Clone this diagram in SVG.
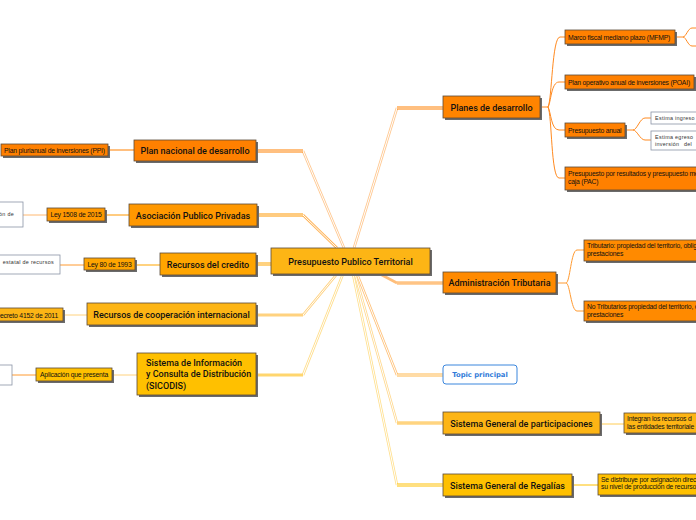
<svg xmlns="http://www.w3.org/2000/svg" width="696" height="520" viewBox="0 0 696 520">
<style>
.sh{fill:#6b6b6b}
.bx{stroke:#5a4a3a;stroke-width:0.8}
.t{font-family:Roboto,"Liberation Sans",Arial,sans-serif;font-weight:500;font-size:9px;fill:#111;text-anchor:middle}
.tl{font-family:Roboto,"Liberation Sans",Arial,sans-serif;font-weight:500;font-size:9px;fill:#111}
.s{font-family:"Liberation Sans",Arial,sans-serif;font-size:6.8px;fill:#111;letter-spacing:-0.2px}
.sc{font-family:"Liberation Sans",Arial,sans-serif;font-size:6.8px;fill:#111;letter-spacing:-0.2px;text-anchor:middle}
.w{fill:#fff;stroke:#8a93a6;stroke-width:0.8}
.wt{font-family:"Liberation Sans",Arial,sans-serif;font-size:5.4px;fill:#333;letter-spacing:0.3px}
.c{fill:none;stroke-linejoin:round}
.ci{fill:none;stroke:#fff;stroke-width:1;stroke-linejoin:round}
.th{fill:none;stroke-width:1}
</style>

<g id="connectors">
  <path class="c" d="M354,248 L397,108" stroke="#FFC890" stroke-width="2.6"/>
  <path class="ci" d="M354,248 L397,108" stroke-width="0.8"/>
  <path class="c" d="M397,108 H443" stroke="#FF8000" stroke-width="3"/>
  <path class="ci" d="M397,108 H443"/>
  <path class="c" d="M344,248 L303,151" stroke="#FFC890" stroke-width="2.6"/>
  <path class="ci" d="M344,248 L303,151" stroke-width="0.8"/>
  <path class="c" d="M303,151 H256" stroke="#FF8000" stroke-width="3"/>
  <path class="ci" d="M303,151 H256"/>
  <path class="c" d="M337,248 L303,215" stroke="#FFB65C" stroke-width="2.6"/>
  <path class="ci" d="M337,248 L303,215" stroke-width="0.6"/>
  <path class="c" d="M303,215 H257" stroke="#FF9800" stroke-width="3"/>
  <path class="ci" d="M303,215 H257"/>
  <path class="c" d="M256,264 H271" stroke="#FFA500" stroke-width="3"/>
  <path class="ci" d="M256,264 H271"/>
  <path class="c" d="M337,274 L303,315" stroke="#FFD280" stroke-width="2.6"/>
  <path class="ci" d="M337,274 L303,315" stroke-width="0.6"/>
  <path class="c" d="M303,315 H256" stroke="#FFD27F" stroke-width="3"/>
  <path class="c" d="M343,274 L303,375" stroke="#FFDE8A" stroke-width="2.6"/>
  <path class="ci" d="M343,274 L303,375" stroke-width="0.8"/>
  <path class="c" d="M303,375 H256" stroke="#FFD66E" stroke-width="3"/>
  <path class="c" d="M380,274 L397,283" stroke="#FFBE7A" stroke-width="2.6"/>
  <path class="c" d="M397,283 H443" stroke="#FFC485" stroke-width="3.5"/>
  <path class="c" d="M357,274 L397,375" stroke="#FFC27A" stroke-width="2.6"/>
  <path class="ci" d="M357,274 L397,375" stroke-width="0.8"/>
  <path class="c" d="M397,375 H443" stroke="#FFB84D" stroke-width="3"/>
  <path class="ci" d="M397,375 H443"/>
  <path class="c" d="M355,274 L397,423" stroke="#FFD88C" stroke-width="2.6"/>
  <path class="ci" d="M355,274 L397,423" stroke-width="0.8"/>
  <path class="c" d="M397,423 H443" stroke="#FFD480" stroke-width="3.5"/>
  <path class="c" d="M353,274 L397,485" stroke="#FFE08C" stroke-width="2.6"/>
  <path class="ci" d="M353,274 L397,485" stroke-width="0.8"/>
  <path class="c" d="M397,485 H443" stroke="#FFC000" stroke-width="3"/>
  <path class="ci" d="M397,485 H443"/>

  <g stroke="#FF8A20">
    <path class="th" d="M540,107 H548"/>
    <path class="th" d="M548,107 C552,100 552,37 560,37 H565"/>
    <path class="th" d="M548,107 C551,103 551,82 559,82 H565"/>
    <path class="th" d="M548,107 C551,112 551,130 559,130 H565"/>
    <path class="th" d="M548,107 C552,115 551,178 559,178 H565"/>
    <path class="th" d="M675,37 H683 C686,37 688,28 692,28 H696"/>
    <path class="th" d="M683,37 C686,37 688,46 692,46 H696"/>
    <path class="th" d="M625,130 H633 C637,130 640,118 645,118 H651"/>
    <path class="th" d="M633,130 C637,130 640,140 645,140 H651"/>
  </g>
  <g stroke="#FF9A30">
    <path class="th" d="M556,283 H566 C570,283 571,250 577,250 H584"/>
    <path class="th" d="M566,283 C570,283 571,311 577,311 H584"/>
  </g>
  <path class="th" d="M600,424 H624" stroke="#FFCC55" stroke-width="1.4"/>
  <path class="th" d="M572,485 H598" stroke="#FFC000" stroke-width="1.4"/>
  <path class="th" d="M108,150 H134" stroke="#FF8000"/>
  <path class="th" d="M105,215 H129" stroke="#FF9800"/>
  <path class="th" d="M23,215 H47" stroke="#FFB870" stroke-width="1.4"/>
  <path class="th" d="M135,265 H160" stroke="#FFA500"/>
  <path class="th" d="M60,265 H84" stroke="#FF9A30"/>
  <path class="th" d="M63,315 H87" stroke="#FFD27F" stroke-width="2.5"/>
  <path class="th" d="M112,375 H137" stroke="#FFD27F" stroke-width="1.8"/>
  <path class="th" d="M12,375 H36" stroke="#FF9A30"/>
</g>

<g id="n-center">
  <rect class="sh" x="273" y="250" width="159" height="26"/>
  <rect class="bx" x="271" y="248" width="159" height="26" fill="#FDB515"/>
  <text class="t" x="350.5" y="264.5" font-size="10">Presupuesto Publico Territorial</text>
</g>

<g id="n-planes">
  <rect class="sh" x="445" y="98" width="97" height="22"/>
  <rect class="bx" x="443" y="96" width="97" height="22" fill="#FF8400"/>
  <text class="t" x="491.5" y="110.5">Planes de desarrollo</text>
</g>
<g id="n-mfmp">
  <rect class="sh" x="567" y="32" width="110" height="14"/>
  <rect class="bx" x="565" y="30" width="110" height="14" fill="#FF8000"/>
  <text class="s" x="568" y="39.5">Marco fiscal mediano plazo (MFMP)</text>
</g>
<g id="n-poai">
  <rect class="sh" x="567" y="77" width="129" height="14"/>
  <rect class="bx" x="565" y="75" width="129" height="14" fill="#FF8000"/>
  <text class="s" x="568" y="84.5">Plan operativo anual de inversiones (POAI)</text>
</g>
<g id="n-panual">
  <rect class="sh" x="567" y="125" width="60" height="14"/>
  <rect class="bx" x="565" y="123" width="60" height="14" fill="#FF8000"/>
  <text class="s" x="568" y="132.5">Presupuesto anual</text>
</g>
<g id="n-ingreso">
  <rect class="w" x="651" y="112" width="60" height="12"/>
  <text class="wt" x="655" y="120">Estima ingreso</text>
</g>
<g id="n-egreso">
  <rect class="w" x="651" y="131" width="60" height="19"/>
  <text class="wt" x="655" y="139">Estima egreso</text>
  <text class="wt" x="655" y="146">inversión<tspan x="684">del</tspan></text>
</g>
<g id="n-pac">
  <rect class="sh" x="567" y="169" width="140" height="23"/>
  <rect class="bx" x="565" y="167" width="140" height="23" fill="#FF8000"/>
  <text class="s" x="568" y="176">Presupuesto por resultados y presupuesto me</text>
  <text class="s" x="568" y="184">caja (PAC)</text>
</g>

<g id="n-admin">
  <rect class="sh" x="445" y="274" width="113" height="21"/>
  <rect class="bx" x="443" y="272" width="113" height="21" fill="#FF8A00"/>
  <text class="t" x="499.5" y="286">Administración Tributaria</text>
</g>
<g id="n-trib">
  <rect class="sh" x="586" y="242" width="120" height="21"/>
  <rect class="bx" x="584" y="240" width="120" height="21" fill="#FF8A00"/>
  <text class="s" x="587" y="248">Tributario: propiedad del territorio, oblig</text>
  <text class="s" x="587" y="256">prestaciones</text>
</g>
<g id="n-notrib">
  <rect class="sh" x="586" y="303" width="120" height="20"/>
  <rect class="bx" x="584" y="301" width="120" height="20" fill="#FF8A00"/>
  <text class="s" x="587" y="309">No Tributarios propiedad del territorio, o</text>
  <text class="s" x="587" y="317">prestaciones</text>
</g>

<g id="n-topic">
  <rect x="443" y="365" width="74" height="19" rx="3" fill="#fff" stroke="#3b86dd" stroke-width="1"/>
  <text x="480" y="377" font-family="'DejaVu Sans',Verdana,sans-serif" font-weight="bold" font-size="6.8px" fill="#2f7ad8" text-anchor="middle">Topic principal</text>
</g>

<g id="n-sgp">
  <rect class="sh" x="445" y="414" width="157" height="22"/>
  <rect class="bx" x="443" y="412" width="157" height="22" fill="#FDB515"/>
  <text class="t" x="521.5" y="426.5">Sistema General de participaciones</text>
</g>
<g id="n-sgp-c">
  <rect class="sh" x="626" y="415" width="80" height="20"/>
  <rect class="bx" x="624" y="413" width="80" height="20" fill="#FDB515"/>
  <text class="s" x="627" y="420.5">Integran los recursos d</text>
  <text class="s" x="627" y="428.5">las entidades territoriale</text>
</g>
<g id="n-sgr">
  <rect class="sh" x="445" y="476" width="129" height="22"/>
  <rect class="bx" x="443" y="474" width="129" height="22" fill="#FFC000"/>
  <text class="t" x="507.5" y="488.5">Sistema General de Regalías</text>
</g>
<g id="n-sgr-c">
  <rect class="sh" x="600" y="476" width="106" height="21"/>
  <rect class="bx" x="598" y="474" width="106" height="21" fill="#FFC000"/>
  <text class="s" x="601" y="481.5">Se distribuye por asignación direc</text>
  <text class="s" x="601" y="489">su nivel de producción de recurso</text>
</g>

<g id="n-pnd">
  <rect class="sh" x="136" y="142" width="122" height="21"/>
  <rect class="bx" x="134" y="140" width="122" height="21" fill="#FF8000"/>
  <text class="t" x="195" y="154">Plan nacional de desarrollo</text>
</g>
<g id="n-ppi">
  <rect class="sh" x="3" y="146" width="107" height="12"/>
  <rect class="bx" x="1" y="144" width="107" height="12" fill="#FF8000"/>
  <text class="s" x="4" y="152.5">Plan plurianual de inversiones (PPI)</text>
</g>

<g id="n-app">
  <rect class="sh" x="131" y="206" width="128" height="22"/>
  <rect class="bx" x="129" y="204" width="128" height="22" fill="#FF9800"/>
  <text class="t" x="193" y="218.5">Asociación Publico Privadas</text>
</g>
<g id="n-ley1508">
  <rect class="sh" x="49" y="210" width="58" height="13"/>
  <rect class="bx" x="47" y="208" width="58" height="13" fill="#FF9800"/>
  <text class="sc" x="76" y="217">Ley 1508 de 2015</text>
</g>
<g id="n-app-w">
  <rect class="w" x="-40" y="202" width="63" height="25"/>
  <text class="wt" x="14" y="216" text-anchor="end">regulación de</text>
</g>

<g id="n-credito">
  <rect class="sh" x="162" y="255" width="96" height="22"/>
  <rect class="bx" x="160" y="253" width="96" height="22" fill="#FFA500"/>
  <text class="t" x="208" y="267.5">Recursos del credito</text>
</g>
<g id="n-ley80">
  <rect class="sh" x="86" y="260" width="51" height="12"/>
  <rect class="bx" x="84" y="258" width="51" height="12" fill="#FFA500"/>
  <text class="sc" x="109.5" y="266.5">Ley 80 de 1993</text>
</g>
<g id="n-cred-w">
  <rect class="w" x="-40" y="255" width="100" height="19"/>
  <text class="wt" x="54" y="263.5" text-anchor="end">estatal de recursos</text>
</g>

<g id="n-coop">
  <rect class="sh" x="89" y="305" width="169" height="22"/>
  <rect class="bx" x="87" y="303" width="169" height="22" fill="#FDB515"/>
  <text class="t" x="171.5" y="317.5">Recursos de cooperación internacional</text>
</g>
<g id="n-decreto">
  <rect class="sh" x="-20" y="310" width="85" height="13"/>
  <rect class="bx" x="-22" y="308" width="85" height="13" fill="#FDB515"/>
  <text class="s" x="58" y="317.5" text-anchor="end">Decreto 4152 de 2011</text>
</g>

<g id="n-sicodis">
  <rect class="sh" x="139" y="355" width="119" height="42"/>
  <rect class="bx" x="137" y="353" width="119" height="42" fill="#FFC000"/>
  <text class="tl" x="146" y="366">Sistema de Información</text>
  <text class="tl" x="146" y="377">y Consulta de Distribución</text>
  <text class="tl" x="146" y="388.5">(SICODIS)</text>
</g>
<g id="n-aplic">
  <rect class="sh" x="38" y="370" width="76" height="13"/>
  <rect class="bx" x="36" y="368" width="76" height="13" fill="#FFC000"/>
  <text class="sc" x="74" y="377">Aplicación que presenta</text>
</g>
<g id="n-sic-w">
  <rect class="w" x="-40" y="365" width="52" height="20"/>
</g>
</svg>
